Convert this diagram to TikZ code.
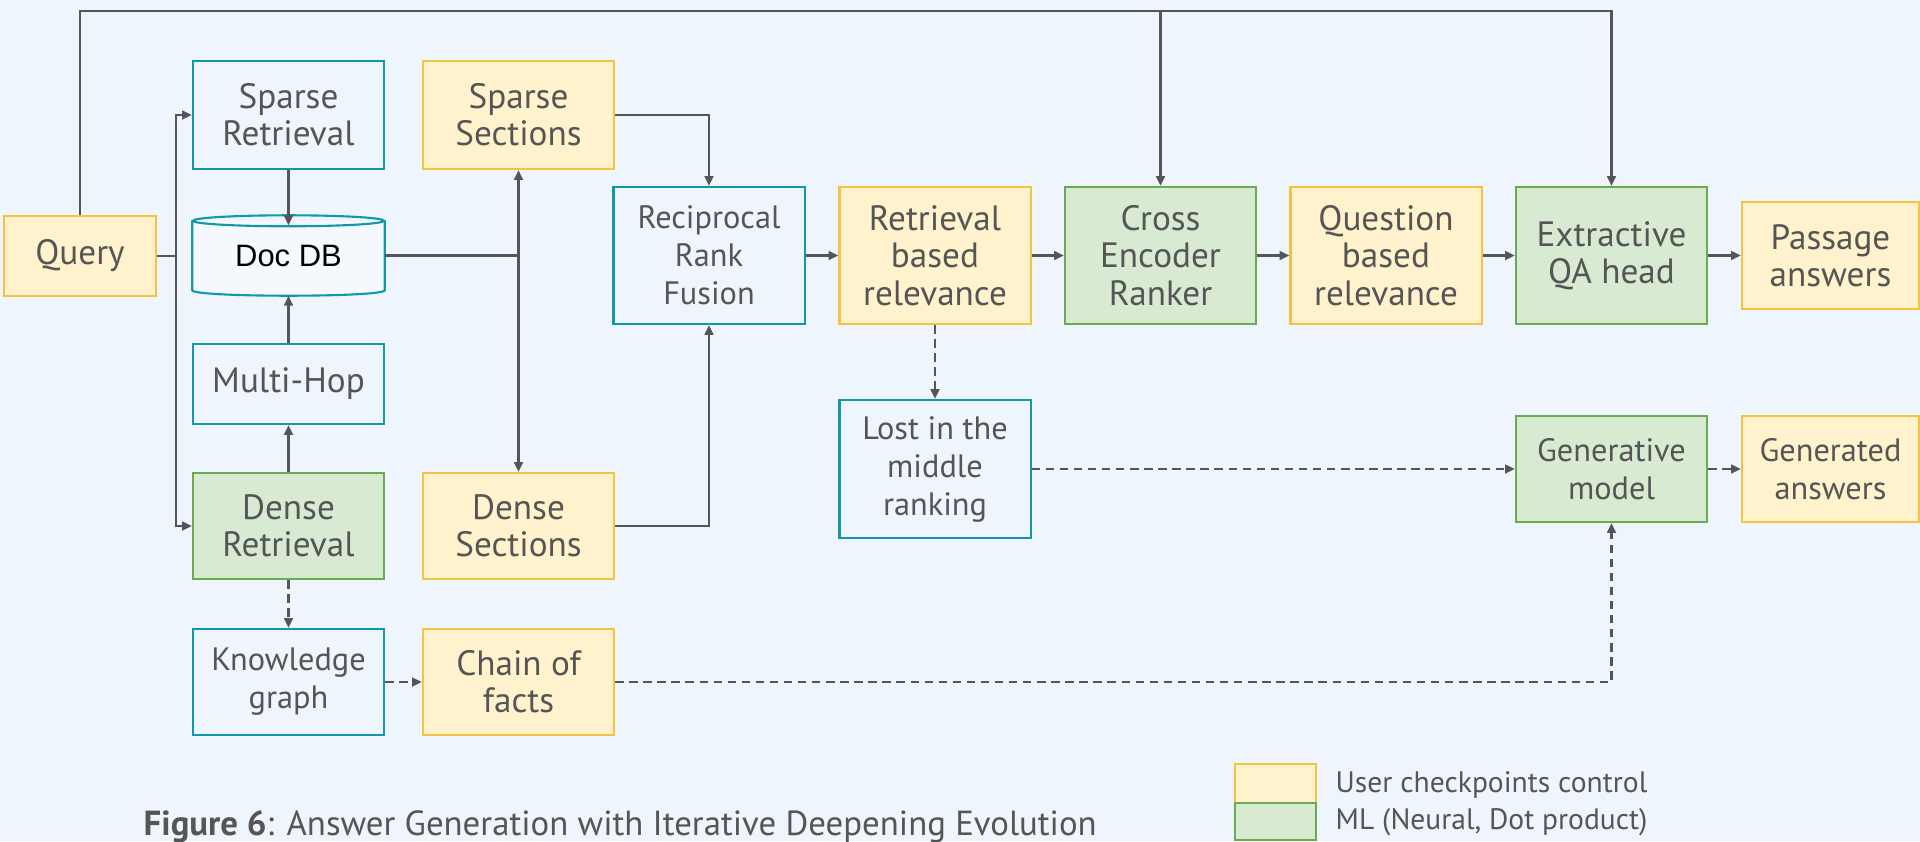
\documentclass[tikz,border=0pt]{standalone}
\usepackage{fontspec}
\setmainfont{PT Sans}
\newfontfamily\dbfont{Liberation Sans}
\usepackage{xcolor}
\usetikzlibrary{arrows.meta,positioning,calc}

\definecolor{bgblue}{HTML}{EEF5FC}
\definecolor{tealline}{HTML}{1199AA}
\definecolor{userfill}{HTML}{FFF2CC}
\definecolor{userline}{HTML}{F5C342}
\definecolor{mlfill}{HTML}{D9EAD3}
\definecolor{mlline}{HTML}{6AAB50}
\definecolor{wire}{HTML}{555555}
\definecolor{inktext}{HTML}{555555}

\begin{document}
\begin{tikzpicture}[x=0.01cm, y=-0.01cm,
    >={Triangle[length=2.8pt,width=2.5pt]},
    box/.style={rectangle, line width=0.6pt, minimum width=1.91cm, minimum height=1.06cm,
        align=center, inner sep=0pt, text=inktext, font=\fontsize{10}{10.6}\selectfont},
    smalltxt/.style={font=\fontsize{9.2}{10.8}\selectfont},
    procbox/.style={box, draw=tealline, fill=bgblue},
    userbox/.style={box, draw=userline, fill=userfill},
    mlbox/.style={box, draw=mlline, fill=mlfill},
    link/.style={->, draw=wire, line width=0.6pt},
    optlink/.style={link, dash pattern=on 2.4pt off 1.6pt}]

    \useasboundingbox (0,0) rectangle (1920,841);
    \fill[bgblue] (0,0) rectangle (1920,841);

    % left column
    \node[userbox, minimum width=1.52cm, minimum height=0.80cm] (query) at (80,256) {Query};
    \node[procbox, minimum height=1.08cm] (sparseret) at (288.5,115) {Sparse\\Retrieval};
    \node[minimum width=1.91cm, minimum height=0.79cm, inner sep=0pt,
          font=\dbfont\fontsize{8.8}{10}\selectfont] (docdb) at (288.5,255.5) {Doc DB};
    \node[procbox, minimum height=0.80cm] (multihop) at (288.5,384) {Multi-Hop};
    \node[mlbox] (denseret) at (288.5,526) {Dense\\Retrieval};
    \node[procbox, smalltxt] (kgraph) at (288.5,682) {Knowledge\\graph};

    % the Doc DB drum
    \filldraw[draw=tealline, fill=bgblue!60!white, line width=0.6pt]
        ($(docdb.north west)+(0,5.5)$) -- ($(docdb.south west)+(0,-5.5)$)
        .. controls ($(docdb.south west)+(0,1.8)$) and ($(docdb.south east)+(0,1.8)$)
        .. ($(docdb.south east)+(0,-5.5)$) -- ($(docdb.north east)+(0,5.5)$);
    \draw[tealline, line width=0.6pt] ($(docdb.north)+(0,5.5)$) ellipse [x radius=95.5, y radius=5.5];
    \node[font=\dbfont\fontsize{8.8}{10}\selectfont] at (docdb.center) {Doc DB};

    % sections
    \node[userbox, minimum height=1.08cm] (sparsesec) at (518.5,115) {Sparse\\Sections};
    \node[userbox] (densesec) at (518.5,526) {Dense\\Sections};
    \node[userbox] (chainfacts) at (518.5,682) {Chain of\\facts};

    % ranking chain
    \node[procbox, smalltxt, minimum height=1.37cm] (rrf) at (709,255.5) {Reciprocal\\Rank\\Fusion};
    \node[userbox, minimum height=1.37cm] (retrel) at (935,255.5) {Retrieval\\based\\relevance};
    \node[mlbox, minimum height=1.37cm] (xencoder) at (1160.5,255.5) {Cross\\Encoder\\Ranker};
    \node[userbox, minimum height=1.37cm] (qrel) at (1386,255.5) {Question\\based\\relevance};
    \node[mlbox, minimum height=1.37cm] (extqa) at (1611.5,255.5) {Extractive\\QA head};
    \node[userbox, minimum width=1.77cm, minimum height=1.07cm] (passage) at (1830.5,255.5) {Passage\\answers};

    % generative branch
    \node[procbox, smalltxt, minimum height=1.38cm] (lostmid) at (935,469) {Lost in the\\middle\\ranking};
    \node[mlbox, smalltxt] (genmodel) at (1611.5,469) {Generative\\model};
    \node[userbox, smalltxt, minimum width=1.77cm] (genans) at (1830.5,469) {Generated\\answers};

    % query fan-out
    \draw[link] (query.east) -- ++(19,0) |- (sparseret.west);
    \draw[link] (query.east) -- ++(19,0) |- (denseret.west);
    \coordinate (topline) at (80,11);
    \draw[link] (query.north) |- (xencoder.north |- topline) -- (xencoder.north);
    \draw[link] (query.north) |- (extqa.north |- topline) -- (extqa.north);

    \draw[link] (sparseret.south) -- ($(docdb.north)+(0,10)$);
    \draw[link] (multihop.north) -- (docdb.south);
    \draw[link] (denseret.north) -- (multihop.south);
    \draw[optlink] (denseret.south) -- (kgraph.north);
    \draw[optlink] (kgraph.east) -- (chainfacts.west);

    \draw[draw=wire, line width=0.6pt] (docdb.east) -- (docdb.east -| sparsesec.south);
    \draw[link, <->] (sparsesec.south) -- (densesec.north);
    \draw[link] (sparsesec.east) -| (rrf.north);
    \draw[link] (densesec.east) -| (rrf.south);

    \draw[link] (rrf) -- (retrel);
    \draw[link] (retrel) -- (xencoder);
    \draw[link] (xencoder) -- (qrel);
    \draw[link] (qrel) -- (extqa);
    \draw[link] (extqa) -- (passage);

    \draw[optlink] (retrel.south) -- (lostmid.north);
    \draw[optlink] (lostmid) -- (genmodel);
    \draw[optlink] (genmodel) -- (genans);
    \draw[optlink] (chainfacts.east) -| (genmodel.south);

    % caption and key
    \node[anchor=base west, inner sep=0pt, text=inktext, font=\fontsize{9.9}{11}\selectfont] (caption) at (143,835)
        {\textbf{Figure 6}: Answer Generation with Iterative Deepening Evolution};
    \node[userbox, minimum width=0.81cm, minimum height=0.39cm] (keyuser) at (1275.5,783.5) {};
    \node[mlbox, minimum width=0.81cm, minimum height=0.37cm] (keyml) at (1275.5,821.5) {};
    \node[anchor=west, inner sep=0pt, text=inktext, font=\fontsize{8.4}{10}\selectfont] (keyusertxt) at (1335,785) {User checkpoints control};
    \node[anchor=west, inner sep=0pt, text=inktext, font=\fontsize{8.4}{10}\selectfont] (keymltxt) at (1335,822) {ML (Neural, Dot product)};
\end{tikzpicture}
\end{document}
